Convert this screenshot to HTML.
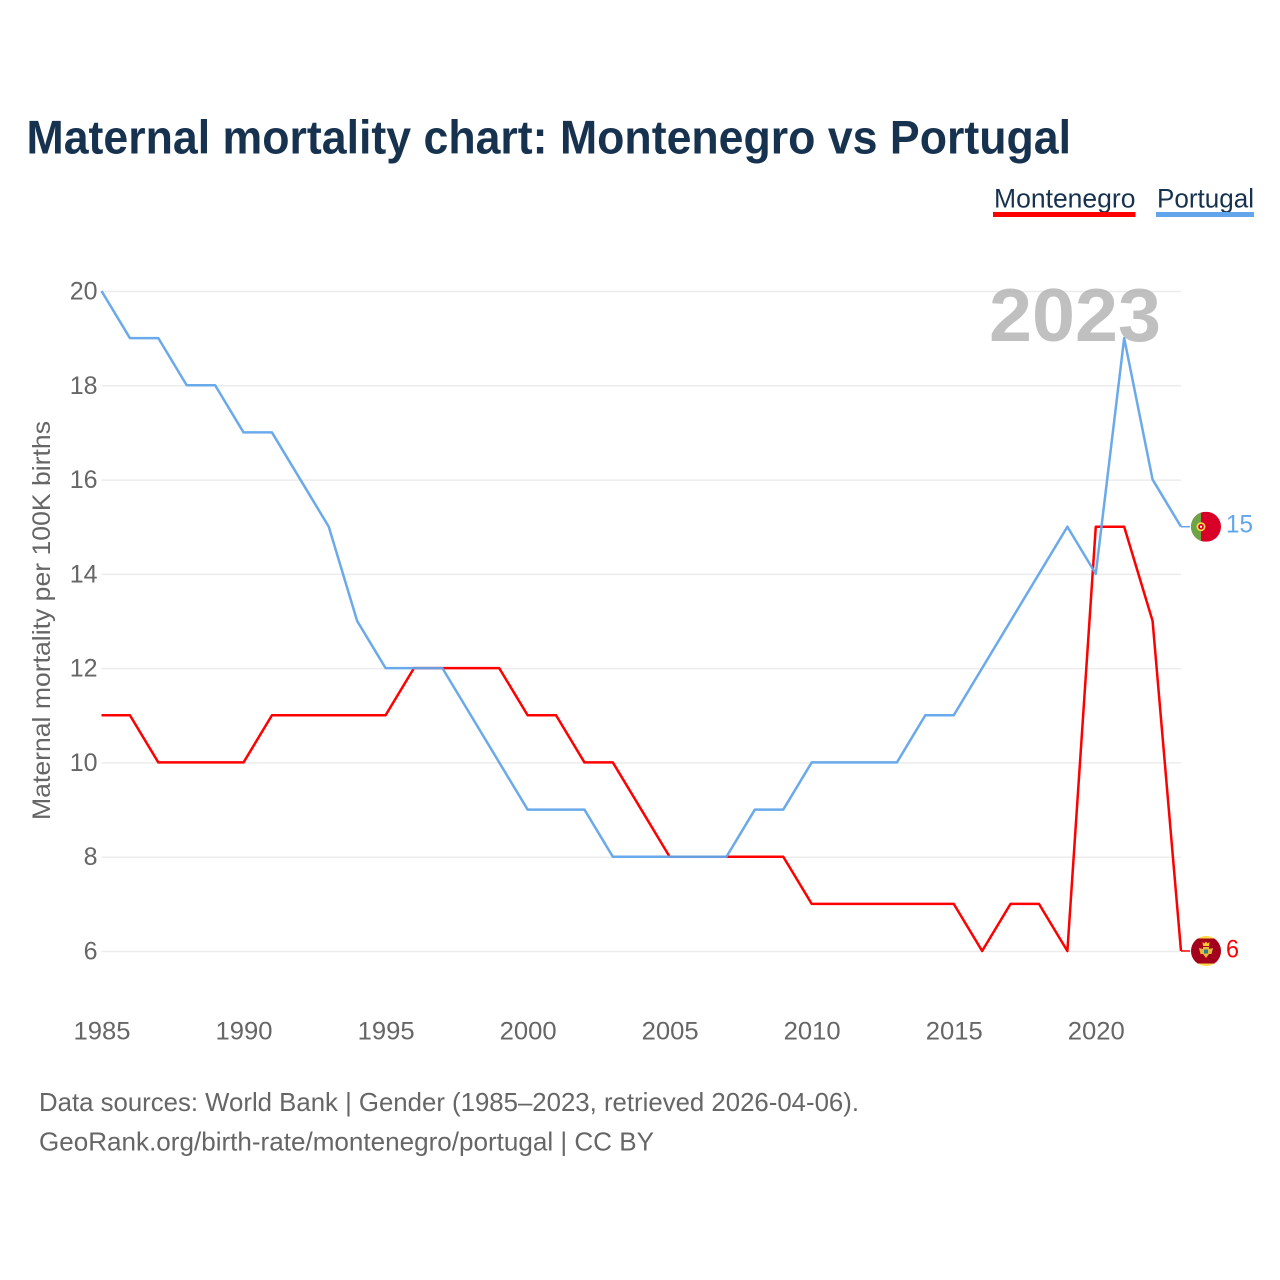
<!DOCTYPE html>
<html lang="en">
<head>
<meta charset="utf-8">
<title>Maternal mortality chart: Montenegro vs Portugal</title>
<style>
html,body{margin:0;padding:0;background:#fff;}
svg{display:block;font-family:"Liberation Sans",sans-serif;}
</style>
</head>
<body>
<svg id="chart" width="1280" height="1280" viewBox="0 0 1280 1280" xmlns="http://www.w3.org/2000/svg">
  <defs>
    <clipPath id="flag-clip"><circle cx="0" cy="0" r="15"></circle></clipPath>
  </defs>
  <rect width="1280" height="1280" fill="#ffffff"></rect>
  <text x="26.5" y="153.5" font-size="47" font-weight="700" fill="#17324f" textLength="1044.5" lengthAdjust="spacingAndGlyphs">Maternal mortality chart: Montenegro vs Portugal</text>

  <g>
    <g>
      <text x="994" y="207.5" font-size="27" fill="#17324f" textLength="141.5" lengthAdjust="spacingAndGlyphs">Montenegro</text>
      <rect x="993" y="212" width="142.5" height="5" fill="#ff0000"></rect>
    </g>
    <g>
      <text x="1157" y="207.5" font-size="27" fill="#17324f" textLength="97" lengthAdjust="spacingAndGlyphs">Portugal</text>
      <rect x="1156" y="212" width="98" height="5" fill="#62a5ea"></rect>
    </g>
  </g>

  <g id="grid"></g>
  <g id="y-ticks"></g>
  <g id="x-ticks"></g>
  <text transform="translate(50,620.5) rotate(-90)" text-anchor="middle" font-size="25" fill="#666666" textLength="399" lengthAdjust="spacingAndGlyphs">Maternal mortality per 100K births</text>

  <g id="series"></g>

  <text x="1075" y="341" text-anchor="middle" font-size="75" font-weight="700" fill="#b0b0b0" fill-opacity="0.8" textLength="172" lengthAdjust="spacingAndGlyphs">2023</text>

  <g id="flag-portugal">
    <g clip-path="url(#flag-clip)">
      <rect x="-15" y="-15" width="30" height="30" fill="#d80027"></rect>
      <rect x="-15" y="-15" width="10" height="30" fill="#6da544"></rect>
      <circle cx="-5" cy="0" r="4.5" fill="#ffda44"></circle>
      <circle cx="-5" cy="0" r="2.8" fill="#d80027"></circle>
      <rect x="-6" y="-1" width="2" height="2" fill="#f0f0f0"></rect>
    </g>
  </g>
  <g id="flag-montenegro">
    <g clip-path="url(#flag-clip)">
      <rect x="-15" y="-15" width="30" height="30" fill="#ffda44"></rect>
      <rect x="-15" y="-12.5" width="30" height="25" fill="#a2001d"></rect>
      <path d="M-3.5 -9 L-1.5 -7.5 L0 -9.5 L1.5 -7.5 L3.5 -9 L3 -5 L-3 -5 Z" fill="#ffc72e"></path>
      <path d="M-7 -3 L-3 -2 L-3 -4 L3 -4 L3 -2 L7 -3 L5.5 3 L3 3 L0 7 L-3 3 L-5.5 3 Z" fill="#e8b93a"></path>
      <rect x="-2" y="-1.5" width="4" height="4" fill="#2f7f86"></rect>
    </g>
  </g>
  <text id="end-label-portugal" x="1226" font-size="25" fill="#62a5ea" textLength="27" lengthAdjust="spacingAndGlyphs"></text>
  <text id="end-label-montenegro" x="1226" font-size="25" fill="#ff0000" textLength="13" lengthAdjust="spacingAndGlyphs"></text>

  <text x="39" y="1111" font-size="26" fill="#666666" textLength="820" lengthAdjust="spacingAndGlyphs">Data sources: World Bank | Gender (1985–2023, retrieved 2026-04-06).</text>
  <text x="39" y="1150.5" font-size="26" fill="#666666" textLength="615" lengthAdjust="spacingAndGlyphs">GeoRank.org/birth-rate/montenegro/portugal | CC BY</text>
</svg>
<script>
const years = [1985,1986,1987,1988,1989,1990,1991,1992,1993,1994,1995,1996,1997,1998,1999,2000,2001,2002,2003,2004,2005,2006,2007,2008,2009,2010,2011,2012,2013,2014,2015,2016,2017,2018,2019,2020,2021,2022,2023];
const montenegroValues = [11,11,10,10,10,10,11,11,11,11,11,12,12,12,12,11,11,10,10,9,8,8,8,8,8,7,7,7,7,7,7,6,7,7,6,15,15,13,6];
const portugalValues = [20,19,19,18,18,17,17,16,15,13,12,12,12,11,10,9,9,9,8,8,8,8,8,9,9,10,10,10,10,11,11,12,13,14,15,14,19,16,15];
const yTickValues = [6,8,10,12,14,16,18,20];
const xTickValues = [1985,1990,1995,2000,2005,2010,2015,2020];

const SVG_NS = 'http://www.w3.org/2000/svg';
const plotLeft = 101.5, plotRight = 1181, plotTop = 291, plotBottom = 951;
function xScale(year) {
  return plotLeft + (year - 1985) * (plotRight - plotLeft) / (2023 - 1985);
}
function yScale(value) {
  return plotBottom - (value - 6) * (plotBottom - plotTop) / (20 - 6);
}

const gridGroup = document.getElementById('grid');
const yTickGroup = document.getElementById('y-ticks');
const xTickGroup = document.getElementById('x-ticks');
const seriesGroup = document.getElementById('series');

yTickValues.forEach(function (v) {
  const line = document.createElementNS(SVG_NS, 'line');
  
  
  line.setAttribute('x1', plotLeft);
  line.setAttribute('x2', plotRight);
  line.setAttribute('y1', yScale(v) + 0.5);
  line.setAttribute('y2', yScale(v) + 0.5);
  line.setAttribute('stroke', '#ececec');
  line.setAttribute('stroke-width', '1.5');
  gridGroup.appendChild(line);

  const label = document.createElementNS(SVG_NS, 'text');
  
  
  label.setAttribute('x', 97.5);
  label.setAttribute('y', yScale(v) + 8.5);
  label.setAttribute('text-anchor', 'end');
  label.setAttribute('font-size', '25');
  label.setAttribute('fill', '#666666');
  label.textContent = String(v);
  yTickGroup.appendChild(label);
});

xTickValues.forEach(function (year) {
  const label = document.createElementNS(SVG_NS, 'text');
  
  
  label.setAttribute('x', xScale(year) + 0.5);
  label.setAttribute('y', 1039.5);
  label.setAttribute('text-anchor', 'middle');
  label.setAttribute('font-size', '25');
  label.setAttribute('fill', '#666666');
  label.setAttribute('textLength', '57');
  label.setAttribute('lengthAdjust', 'spacingAndGlyphs');
  label.textContent = String(year);
  xTickGroup.appendChild(label);
});

function linePoints(values) {
  return values.map(function (v, i) {
    return xScale(years[i]).toFixed(2) + ',' + yScale(v).toFixed(2);
  }).join(' ');
}

function lastOf(values) {
  return values[values.length - 1];
}

const redLine = document.createElementNS(SVG_NS, 'polyline');


redLine.setAttribute('points', linePoints(montenegroValues));
redLine.setAttribute('fill', 'none');
redLine.setAttribute('stroke', '#ff0000');
redLine.setAttribute('stroke-width', '2.5');
redLine.setAttribute('stroke-linejoin', 'round');
seriesGroup.appendChild(redLine);

const blueLine = document.createElementNS(SVG_NS, 'polyline');


blueLine.setAttribute('points', linePoints(portugalValues));
blueLine.setAttribute('fill', 'none');
blueLine.setAttribute('stroke', '#62a5ea');
blueLine.setAttribute('stroke-width', '2.5');
blueLine.setAttribute('stroke-opacity', '0.95');
blueLine.setAttribute('stroke-linejoin', 'round');
seriesGroup.appendChild(blueLine);

const redLeader = document.createElementNS(SVG_NS, 'line');


redLeader.setAttribute('x1', plotRight);
redLeader.setAttribute('x2', plotRight + 9);
redLeader.setAttribute('y1', yScale(lastOf(montenegroValues)));
redLeader.setAttribute('y2', yScale(lastOf(montenegroValues)));
redLeader.setAttribute('stroke', '#ff0000');
redLeader.setAttribute('stroke-width', '1.5');
seriesGroup.appendChild(redLeader);

const blueLeader = document.createElementNS(SVG_NS, 'line');


blueLeader.setAttribute('x1', plotRight);
blueLeader.setAttribute('x2', plotRight + 9);
blueLeader.setAttribute('y1', yScale(lastOf(portugalValues)));
blueLeader.setAttribute('y2', yScale(lastOf(portugalValues)));
blueLeader.setAttribute('stroke', '#62a5ea');
blueLeader.setAttribute('stroke-width', '1.5');
seriesGroup.appendChild(blueLeader);

document.getElementById('flag-portugal').setAttribute('transform', 'translate(1206,' + yScale(lastOf(portugalValues)) + ')');
document.getElementById('flag-montenegro').setAttribute('transform', 'translate(1206,' + yScale(lastOf(montenegroValues)) + ')');

const portugalEnd = document.getElementById('end-label-portugal');
portugalEnd.setAttribute('y', yScale(lastOf(portugalValues)) + 6);
portugalEnd.textContent = String(lastOf(portugalValues));

const montenegroEnd = document.getElementById('end-label-montenegro');
montenegroEnd.setAttribute('y', yScale(lastOf(montenegroValues)) + 6.5);
montenegroEnd.textContent = String(lastOf(montenegroValues));
</script>
</body>
</html>
